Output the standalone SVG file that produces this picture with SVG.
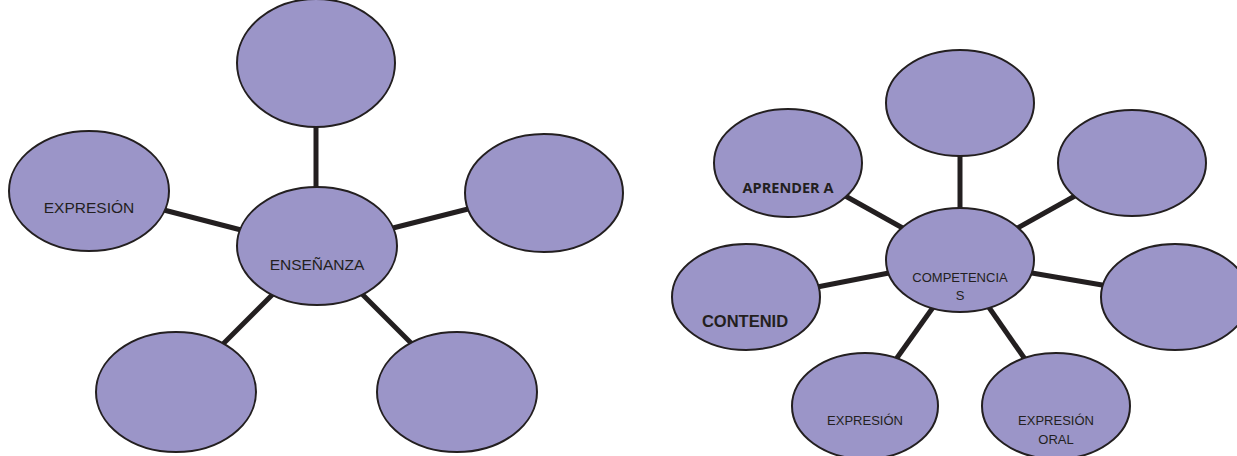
<svg xmlns="http://www.w3.org/2000/svg" width="1237" height="456" viewBox="0 0 1237 456">
<style>
.n{fill:#9b95c8;stroke:#231f20;stroke-width:2}
.c line{stroke:#231f20;stroke-width:5}
.t{font-family:"Liberation Sans",Arial,sans-serif;fill:#231f20;text-anchor:middle}
.b{font-family:"Open Sans","Liberation Sans",sans-serif;font-weight:bold;fill:#231f20;text-anchor:middle}
</style>
<rect width="1237" height="456" fill="#fff"/>
<g class="c" id="connectors">
<line x1="316" y1="120" x2="316" y2="192"/>
<line x1="160" y1="209" x2="245" y2="231"/>
<line x1="385" y1="230" x2="472" y2="208"/>
<line x1="215" y1="352" x2="275" y2="292"/>
<line x1="358" y1="290" x2="418" y2="350"/>
<line x1="960" y1="150" x2="960" y2="212"/>
<line x1="840" y1="193" x2="908" y2="231"/>
<line x1="1082" y1="192" x2="1012" y2="231"/>
<line x1="812" y1="288" x2="894" y2="272"/>
<line x1="1026" y1="272" x2="1108" y2="286"/>
<line x1="934" y1="306" x2="894" y2="362"/>
<line x1="988" y1="306" x2="1027" y2="362"/>
</g>
<g id="n1"><ellipse class="n" cx="316" cy="63" rx="79" ry="64"/></g>
<g id="n2"><ellipse class="n" cx="89" cy="191" rx="80" ry="60"/><text class="t" x="89" y="213" font-size="15.5">EXPRESIÓN</text></g>
<g id="n3"><ellipse class="n" cx="317" cy="246" rx="80" ry="59"/><text class="t" x="317" y="270" font-size="15.5">ENSEÑANZA</text></g>
<g id="n4"><ellipse class="n" cx="544" cy="193" rx="79" ry="59"/></g>
<g id="n5"><ellipse class="n" cx="176" cy="392" rx="80" ry="60"/></g>
<g id="n6"><ellipse class="n" cx="457" cy="392" rx="80" ry="60"/></g>
<g id="m1"><ellipse class="n" cx="960" cy="103" rx="74" ry="53"/></g>
<g id="m2"><ellipse class="n" cx="788" cy="163" rx="74" ry="54"/><text class="b" x="788" y="193" font-size="14.5">APRENDER A</text></g>
<g id="m3"><ellipse class="n" cx="1132" cy="163" rx="74" ry="53"/></g>
<g id="m4"><ellipse class="n" cx="746" cy="297" rx="74" ry="53"/><text class="t" x="745" y="327" font-size="16.5" font-weight="bold">CONTENID</text></g>
<g id="m5"><ellipse class="n" cx="960" cy="260" rx="74" ry="52"/><text class="t" x="960" y="282" font-size="13">COMPETENCIA</text><text class="t" x="960" y="300" font-size="13">S</text></g>
<g id="m6"><ellipse class="n" cx="1175" cy="297" rx="74" ry="53"/></g>
<g id="m7"><ellipse class="n" cx="865" cy="406" rx="73" ry="53"/><text class="t" x="865" y="425" font-size="13">EXPRESIÓN</text></g>
<g id="m8"><ellipse class="n" cx="1056" cy="406" rx="74" ry="53"/><text class="t" x="1056" y="425" font-size="13">EXPRESIÓN</text><text class="t" x="1056" y="444" font-size="13">ORAL</text></g>
</svg>
